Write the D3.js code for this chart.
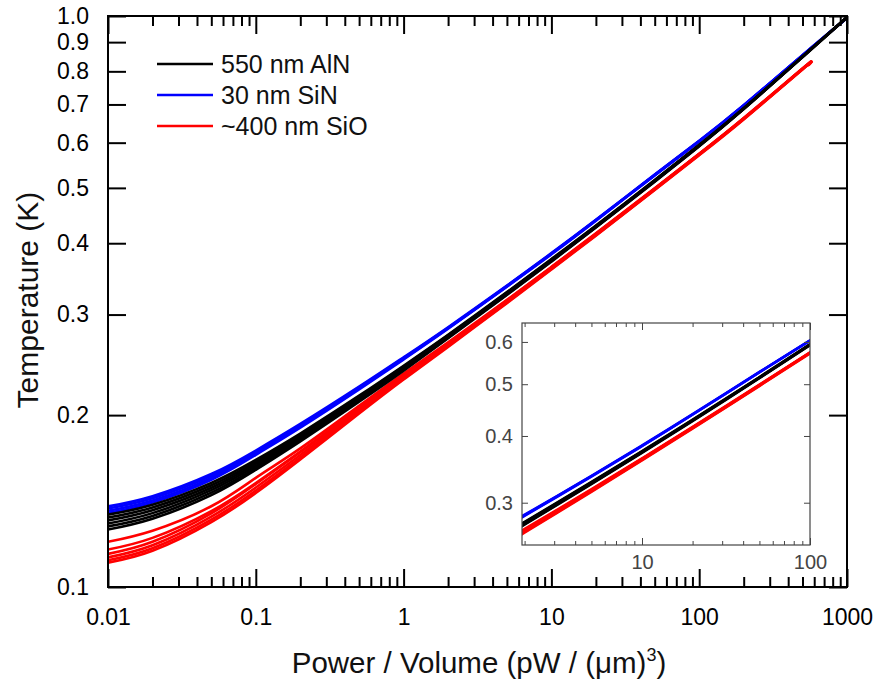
<!DOCTYPE html>
<html>
<head>
<meta charset="utf-8">
<script src="https://cdn.jsdelivr.net/npm/d3@7"></script>
<style>
  body { margin: 0; background: #fff; }
  text { font-family: "Liberation Sans", Arial, sans-serif; }
</style>
</head>
<body>
<script>
// power / volume grid (pW / um^3)
const powerGrid = [0.01, 0.02, 0.05, 0.1, 0.2, 0.5, 1, 2, 5, 10, 20, 50, 100, 200, 500, 1000];
const powerGridSiO = [0.01, 0.02, 0.05, 0.1, 0.2, 0.5, 1, 2, 5, 10, 20, 50, 100, 200, 500, 550];

// temperature (K), one array per measured device
const alnCurves = [
  [0.1339, 0.1393, 0.1522, 0.1670, 0.1857, 0.2163, 0.2441, 0.2765, 0.3284, 0.3752, 0.4295, 0.5162, 0.5948, 0.6897, 0.8496, 0.9957],
  [0.1323, 0.1378, 0.1507, 0.1657, 0.1846, 0.2152, 0.2432, 0.2758, 0.3277, 0.3744, 0.4288, 0.5155, 0.5941, 0.6891, 0.8491, 0.9953],
  [0.1308, 0.1363, 0.1492, 0.1644, 0.1834, 0.2142, 0.2422, 0.2750, 0.3270, 0.3737, 0.4281, 0.5148, 0.5934, 0.6886, 0.8486, 0.9949],
  [0.1292, 0.1347, 0.1478, 0.1630, 0.1822, 0.2132, 0.2412, 0.2742, 0.3262, 0.3729, 0.4275, 0.5140, 0.5926, 0.6880, 0.8480, 0.9945],
  [0.1277, 0.1332, 0.1463, 0.1617, 0.1810, 0.2122, 0.2403, 0.2734, 0.3255, 0.3722, 0.4268, 0.5133, 0.5919, 0.6875, 0.8475, 0.9941],
  [0.1261, 0.1317, 0.1448, 0.1604, 0.1799, 0.2111, 0.2393, 0.2727, 0.3248, 0.3714, 0.4261, 0.5126, 0.5912, 0.6869, 0.8470, 0.9937]
];
const sinCurves = [
  [0.1384, 0.1442, 0.1577, 0.1734, 0.1930, 0.2243, 0.2525, 0.2851, 0.3372, 0.3843, 0.4397, 0.5275, 0.6045, 0.6978, 0.8540, 0.9932],
  [0.1372, 0.1430, 0.1565, 0.1725, 0.1921, 0.2235, 0.2518, 0.2845, 0.3367, 0.3837, 0.4392, 0.5270, 0.6040, 0.6974, 0.8536, 0.9929],
  [0.1360, 0.1418, 0.1553, 0.1714, 0.1911, 0.2227, 0.2510, 0.2839, 0.3361, 0.3831, 0.4386, 0.5264, 0.6034, 0.6970, 0.8532, 0.9925],
  [0.1348, 0.1406, 0.1541, 0.1704, 0.1902, 0.2219, 0.2503, 0.2833, 0.3356, 0.3825, 0.4381, 0.5259, 0.6029, 0.6966, 0.8528, 0.9922]
];
const sioCurves = [
  [0.1200, 0.1255, 0.1385, 0.1553, 0.1749, 0.2076, 0.2365, 0.2682, 0.3183, 0.3636, 0.4162, 0.4994, 0.5739, 0.6628, 0.8092, 0.8236],
  [0.1163, 0.1219, 0.1358, 0.1521, 0.1727, 0.2057, 0.2349, 0.2669, 0.3174, 0.3628, 0.4153, 0.4984, 0.5733, 0.6615, 0.8084, 0.8228],
  [0.1143, 0.1200, 0.1346, 0.1515, 0.1722, 0.2053, 0.2347, 0.2668, 0.3171, 0.3627, 0.4154, 0.4988, 0.5736, 0.6621, 0.8089, 0.8233],
  [0.1127, 0.1183, 0.1328, 0.1494, 0.1703, 0.2037, 0.2332, 0.2655, 0.3160, 0.3616, 0.4143, 0.4976, 0.5724, 0.6610, 0.8078, 0.8222],
  [0.1114, 0.1169, 0.1312, 0.1476, 0.1686, 0.2024, 0.2320, 0.2644, 0.3150, 0.3606, 0.4133, 0.4965, 0.5713, 0.6599, 0.8068, 0.8212],
  [0.1103, 0.1157, 0.1299, 0.1461, 0.1673, 0.2013, 0.2309, 0.2634, 0.3142, 0.3598, 0.4124, 0.4957, 0.5705, 0.6591, 0.8060, 0.8204]
];

const legendLabels = ["550 nm AlN", "30 nm SiN", "~400 nm SiO"];
const legendColors = ["#000000", "#0000ff", "#ff0000"];

const xTickValues = [0.01, 0.1, 1, 10, 100, 1000];
const xTickLabels = ["0.01", "0.1", "1", "10", "100", "1000"];
const yTickValues = [0.1, 0.2, 0.3, 0.4, 0.5, 0.6, 0.7, 0.8, 0.9, 1.0];
const yTickLabels = ["0.1", "0.2", "0.3", "0.4", "0.5", "0.6", "0.7", "0.8", "0.9", "1.0"];

const insetXTickValues = [10, 100];
const insetXTickLabels = ["10", "100"];
const insetYTickValues = [0.3, 0.4, 0.5, 0.6];
const insetYTickLabels = ["0.3", "0.4", "0.5", "0.6"];

const w = 875;
const h = 682;
const mLeft = 108, mRight = 847, mTop = 16, mBottom = 587;

const svg = d3.select("body")
  .append("svg")
  .attr("width", w)
  .attr("height", h);

const x = d3.scaleLog().domain([0.01, 1000]).range([mLeft, mRight]);
const y = d3.scaleLog().domain([0.1, 1]).range([mBottom, mTop]);

const isDecade = d => Math.abs(Math.log10(d) - Math.round(Math.log10(d))) < 1e-6;

const groups = [
  { curves: sinCurves, grid: powerGrid, color: "#0000ff" },
  { curves: sioCurves, grid: powerGridSiO, color: "#ff0000" },
  { curves: alnCurves, grid: powerGrid, color: "#000000" }
];

function drawCurves(g, xs, ys, width) {
  const line = d3.line()
    .x(d => xs(d[0]))
    .y(d => ys(d[1]))
    .curve(d3.curveNatural);
  groups.forEach(gr => {
    g.selectAll(null)
      .data(gr.curves)
      .enter()
      .append("path")
      .attr("d", c => line(c.map((t, i) => [gr.grid[i], t])))
      .attr("fill", "none")
      .attr("stroke", gr.color)
      .attr("stroke-width", width)
      .attr("stroke-linecap", "round");
  });
}

function styleAxis(g, fontSize, color, strokeW) {
  g.select(".domain").remove();
  g.attr("font-family", null).attr("font-size", null);
  g.selectAll("line").attr("stroke", color).attr("stroke-width", strokeW);
  g.selectAll("text").attr("fill", color).style("font-size", fontSize + "px");
}

const defs = svg.append("defs");
defs.append("clipPath").attr("id", "mainClip")
  .append("rect")
  .attr("x", mLeft).attr("y", mTop)
  .attr("width", mRight - mLeft).attr("height", mBottom - mTop);

// CURVES
drawCurves(svg.append("g").attr("clip-path", "url(#mainClip)"), x, y, 2.6);

// AXES
const minorX = x.ticks().filter(d => !isDecade(d));

svg.append("g")
  .attr("transform", `translate(0, ${mBottom})`)
  .call(d3.axisBottom(x).tickValues(xTickValues)
    .tickFormat((d, i) => xTickLabels[i]).tickSize(-18).tickPadding(22))
  .call(g => styleAxis(g, 23, "#000", 2));

svg.append("g")
  .attr("transform", `translate(0, ${mBottom})`)
  .call(d3.axisBottom(x).tickValues(minorX).tickFormat("").tickSize(-10))
  .call(g => styleAxis(g, 23, "#000", 2));

svg.append("g")
  .attr("transform", `translate(0, ${mTop})`)
  .call(d3.axisTop(x).tickValues(xTickValues).tickFormat("").tickSize(-18))
  .call(g => styleAxis(g, 23, "#000", 2));

svg.append("g")
  .attr("transform", `translate(0, ${mTop})`)
  .call(d3.axisTop(x).tickValues(minorX).tickFormat("").tickSize(-10))
  .call(g => styleAxis(g, 23, "#000", 2));

svg.append("g")
  .attr("transform", `translate(${mLeft}, 0)`)
  .call(d3.axisLeft(y).tickValues(yTickValues)
    .tickFormat((d, i) => yTickLabels[i]).tickSize(-18).tickPadding(19))
  .call(g => styleAxis(g, 23, "#000", 2));

svg.append("g")
  .attr("transform", `translate(${mRight}, 0)`)
  .call(d3.axisRight(y).tickValues(yTickValues).tickFormat("").tickSize(-18))
  .call(g => styleAxis(g, 23, "#000", 2));

// FRAME
svg.append("rect")
  .attr("x", mLeft).attr("y", mTop)
  .attr("width", mRight - mLeft).attr("height", mBottom - mTop)
  .attr("fill", "none")
  .attr("stroke", "#000")
  .attr("stroke-width", 2);

// AXIS TITLES
const xTitle = svg.append("text")
  .attr("x", 479)
  .attr("y", 673)
  .attr("text-anchor", "middle")
  .style("font-size", "29.5px")
  .attr("fill", "#111");
xTitle.append("tspan").text("Power / Volume (pW / (\u03bcm)");
xTitle.append("tspan").attr("dy", -12).style("font-size", "18px").text("3");
xTitle.append("tspan").attr("dy", 12).text(")");

svg.append("text")
  .attr("transform", "translate(38, 300) rotate(-90)")
  .attr("text-anchor", "middle")
  .style("font-size", "30px")
  .attr("fill", "#111")
  .text("Temperature (K)");

// LEGEND
const legend = svg.append("g");
legendLabels.forEach((label, i) => {
  const ly = 64 + i * 31;
  legend.append("line")
    .attr("x1", 157).attr("x2", 213)
    .attr("y1", ly).attr("y2", ly)
    .attr("stroke", legendColors[i])
    .attr("stroke-width", 2.4);
  legend.append("text")
    .attr("x", 221).attr("y", ly + 9)
    .style("font-size", "25px")
    .attr("fill", "#111")
    .text(label);
});

// INSET
const il = 522, ir = 810, it = 323, ib = 545;
const ix = d3.scaleLog().domain([1.93, 100]).range([il, ir]);
const iy = d3.scaleLog().domain([0.25, 0.651]).range([ib, it]);

const inset = svg.append("g");
inset.append("rect")
  .attr("x", il).attr("y", it)
  .attr("width", ir - il).attr("height", ib - it)
  .attr("fill", "#fff");

defs.append("clipPath").attr("id", "insetClip")
  .append("rect")
  .attr("x", il).attr("y", it)
  .attr("width", ir - il).attr("height", ib - it);

drawCurves(inset.append("g").attr("clip-path", "url(#insetClip)"), ix, iy, 2.2);

const insetMinorX = ix.ticks().filter(d => !isDecade(d));
const insetGrey = "#444";

inset.append("g")
  .attr("transform", `translate(0, ${ib})`)
  .call(d3.axisBottom(ix).tickValues(insetXTickValues)
    .tickFormat((d, i) => insetXTickLabels[i]).tickSize(-7).tickPadding(10))
  .call(g => styleAxis(g, 20, insetGrey, 1));

inset.append("g")
  .attr("transform", `translate(0, ${ib})`)
  .call(d3.axisBottom(ix).tickValues(insetMinorX).tickFormat("").tickSize(-4))
  .call(g => styleAxis(g, 20, insetGrey, 1));

inset.append("g")
  .attr("transform", `translate(0, ${it})`)
  .call(d3.axisTop(ix).tickValues(insetXTickValues).tickFormat("").tickSize(-7))
  .call(g => styleAxis(g, 20, insetGrey, 1));

inset.append("g")
  .attr("transform", `translate(0, ${it})`)
  .call(d3.axisTop(ix).tickValues(insetMinorX).tickFormat("").tickSize(-4))
  .call(g => styleAxis(g, 20, insetGrey, 1));

inset.append("g")
  .attr("transform", `translate(${il}, 0)`)
  .call(d3.axisLeft(iy).tickValues(insetYTickValues)
    .tickFormat((d, i) => insetYTickLabels[i]).tickSize(-6).tickPadding(9))
  .call(g => styleAxis(g, 20, insetGrey, 1));

inset.append("g")
  .attr("transform", `translate(${ir}, 0)`)
  .call(d3.axisRight(iy).tickValues(insetYTickValues).tickFormat("").tickSize(-6))
  .call(g => styleAxis(g, 20, insetGrey, 1));

inset.append("rect")
  .attr("x", il).attr("y", it)
  .attr("width", ir - il).attr("height", ib - it)
  .attr("fill", "none")
  .attr("stroke", insetGrey)
  .attr("stroke-width", 1.2);
</script>
</body>
</html>
